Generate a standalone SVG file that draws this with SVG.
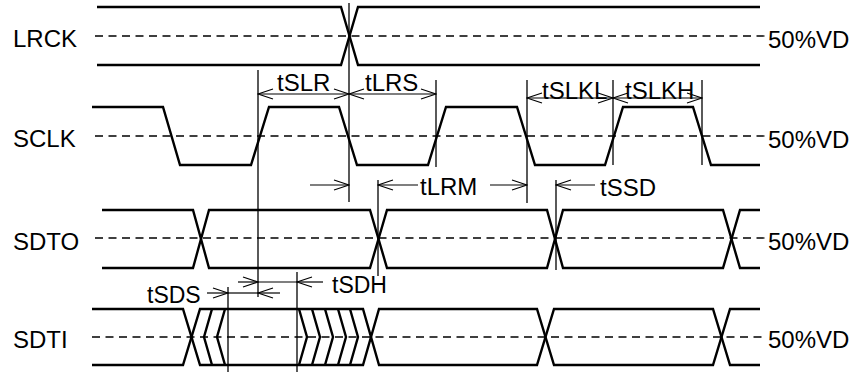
<svg xmlns="http://www.w3.org/2000/svg" width="859" height="374" viewBox="0 0 859 374">
<style>
.sig{fill:none;stroke:#000;stroke-width:2.4;stroke-linejoin:miter}
.dash{fill:none;stroke:#000;stroke-width:1.3;stroke-dasharray:8 5.5}
.ref{fill:none;stroke:#000;stroke-width:1.3}
.arr{fill:none;stroke:#000;stroke-width:1.2}
text{font-family:"Liberation Sans",Arial,sans-serif;font-size:24px;fill:#000}
.sm{font-size:23px}
</style>
<defs>
<marker id="ah" viewBox="-17 -7 18 14" refX="0" refY="0" markerWidth="18" markerHeight="14" markerUnits="userSpaceOnUse" orient="auto-start-reverse">
<path d="M-15,-5 L0,0 L-15,5" fill="none" stroke="#000" stroke-width="1.2"/>
</marker>
</defs>
<rect width="859" height="374" fill="#fff"/>

<g id="LRCK">
<text x="13" y="47">LRCK</text>
<line class="dash" x1="95" y1="36" x2="767" y2="36"/>
<polyline class="sig" points="97,7 341,7 358,65 760,65"/>
<polyline class="sig" points="97,65 341,65 358,7 760,7"/>
<text x="768" y="48">50%VD</text>
</g>

<g id="SCLK">
<text x="13" y="147">SCLK</text>
<line class="dash" x1="95" y1="136" x2="767" y2="136"/>
<polyline class="sig" points="92,107 163,107 180,165 251,165 269,107 339,107 357,165 428,165 446,107 517,107 535,165 605,165 623,107 693,107 711,165 760,165"/>
<text x="768" y="148">50%VD</text>
</g>

<g id="SDTO">
<text x="13" y="250">SDTO</text>
<line class="dash" x1="95" y1="238" x2="767" y2="238"/>
<polyline class="sig" points="102,210 193,210 209,268 370,268 387,210 547,210 563,268 723,268 740,210 760,210"/>
<polyline class="sig" points="102,268 193,268 209,210 370,210 387,268 547,268 563,210 723,210 740,268 760,268"/>
<text x="768" y="250">50%VD</text>
</g>

<g id="SDTI">
<text x="13" y="348">SDTI</text>
<line class="dash" x1="92" y1="337" x2="767" y2="337"/>
<polyline class="sig" points="92,309 183,309 200,365 363,365 379,309 537,309 554,365 713,365 730,309 760,309"/>
<polyline class="sig" points="92,365 183,365 200,309 363,309 379,365 537,365 554,309 713,309 730,365 760,365"/>
<polyline class="sig" points="212,309 204,337 212,365"/>
<polyline class="sig" points="225,309 217,337 225,365"/>
<polyline class="sig" points="299,309 307,337 299,365"/>
<polyline class="sig" points="312,309 320,337 312,365"/>
<polyline class="sig" points="325,309 333,337 325,365"/>
<polyline class="sig" points="338,309 346,337 338,365"/>
<polyline class="sig" points="350,309 358,337 350,365"/>
<text x="768" y="348">50%VD</text>
</g>

<g id="connectors">
<line class="ref" x1="258" y1="70" x2="258" y2="297"/>
<line class="ref" x1="349" y1="3" x2="349" y2="202"/>
<line class="ref" x1="436" y1="80" x2="436" y2="167"/>
<line class="ref" x1="378" y1="180" x2="378" y2="276"/>
<line class="ref" x1="527" y1="80" x2="527" y2="203"/>
<line class="ref" x1="556" y1="180" x2="556" y2="270"/>
<line class="ref" x1="613" y1="80" x2="613" y2="165"/>
<line class="ref" x1="702" y1="80" x2="702" y2="165"/>
<line class="ref" x1="228" y1="287" x2="228" y2="372"/>
<line class="ref" x1="297" y1="272" x2="297" y2="372"/>

<line class="arr" x1="258" y1="94" x2="349" y2="94" marker-start="url(#ah)" marker-end="url(#ah)"/>
<line class="arr" x1="349" y1="94" x2="436" y2="94" marker-start="url(#ah)" marker-end="url(#ah)"/>
<line class="arr" x1="527" y1="98" x2="613" y2="98" marker-start="url(#ah)" marker-end="url(#ah)"/>
<line class="arr" x1="613" y1="98" x2="702" y2="98" marker-start="url(#ah)" marker-end="url(#ah)"/>

<line class="arr" x1="310" y1="185" x2="349" y2="185" marker-end="url(#ah)"/>
<line class="arr" x1="418" y1="185" x2="378" y2="185" marker-end="url(#ah)"/>
<line class="arr" x1="490" y1="185" x2="527" y2="185" marker-end="url(#ah)"/>
<line class="arr" x1="595" y1="185" x2="556" y2="185" marker-end="url(#ah)"/>

<line class="arr" x1="238" y1="282" x2="258" y2="282" marker-end="url(#ah)"/>
<line class="arr" x1="258" y1="282" x2="297" y2="282"/>
<line class="arr" x1="323" y1="282" x2="297" y2="282" marker-end="url(#ah)"/>

<line class="arr" x1="207" y1="293" x2="228" y2="293" marker-end="url(#ah)"/>
<line class="arr" x1="228" y1="293" x2="258" y2="293"/>
<line class="arr" x1="280" y1="293" x2="258" y2="293" marker-end="url(#ah)"/>

<text x="277" y="91">tSLR</text>
<text x="365" y="91">tLRS</text>
<text x="542" y="99">tSLKL</text>
<text x="625" y="99">tSLKH</text>
<text x="420" y="195">tLRM</text>
<text x="600" y="196">tSSD</text>
<text class="sm" x="332" y="293">tSDH</text>
<text class="sm" x="147" y="303">tSDS</text>
</g>
</svg>
